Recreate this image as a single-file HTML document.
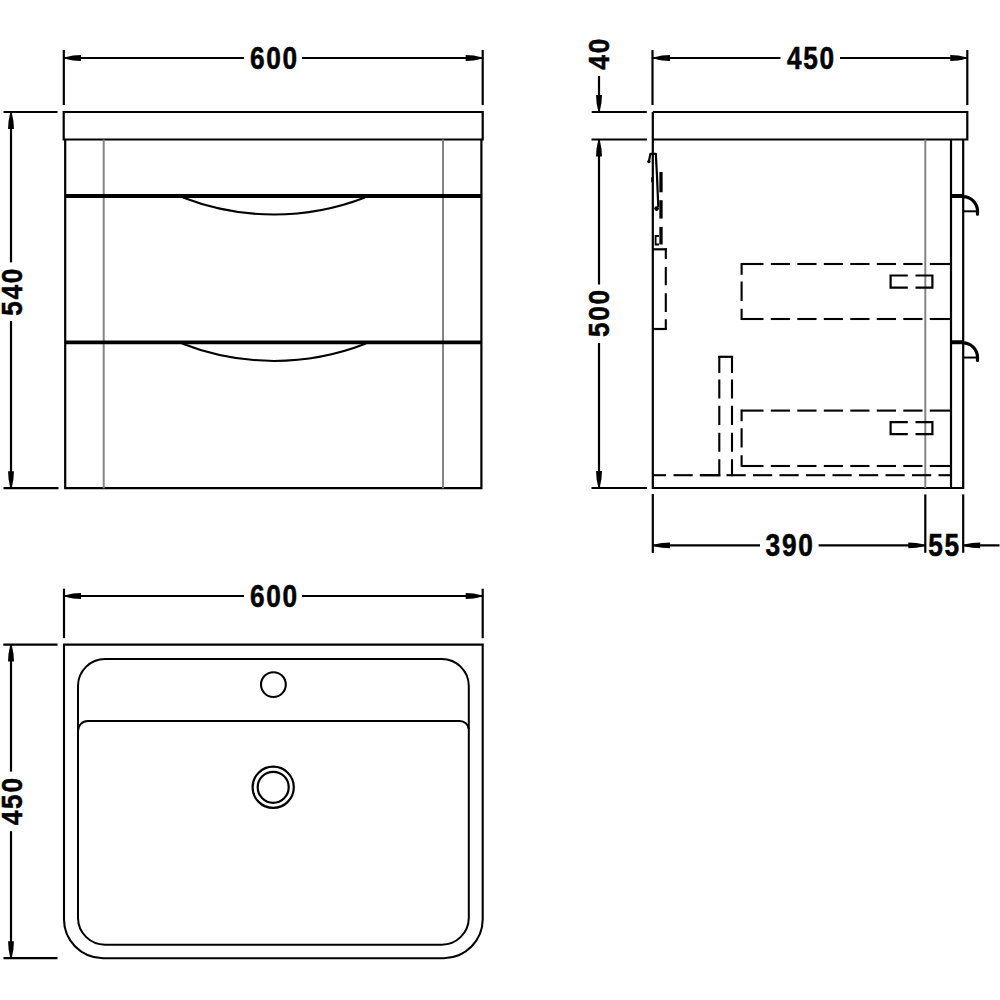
<!DOCTYPE html>
<html><head><meta charset="utf-8"><style>
html,body{margin:0;padding:0;background:#fff;}
svg{display:block;}
.t{font-family:"Liberation Sans",sans-serif;font-weight:bold;font-size:30.7px;letter-spacing:2.0px;stroke:#000;stroke-width:0.55px;fill:#000;}
</style></head><body>
<svg width="1000" height="1000" viewBox="0 0 1000 1000" stroke-linecap="butt">
<line x1="63.8" y1="50" x2="63.8" y2="105" stroke="#000" stroke-width="2.2" />
<line x1="482.7" y1="50" x2="482.7" y2="105" stroke="#000" stroke-width="2.2" />
<line x1="64" y1="58" x2="244" y2="58" stroke="#000" stroke-width="2.2" />
<line x1="302" y1="58" x2="482.7" y2="58" stroke="#000" stroke-width="2.2" />
<polygon points="64.00,57.75 67.50,56.70 73.00,55.55 81.00,55.05 81.00,60.95 73.00,60.45 67.50,59.30 64.00,58.25" fill="#000"/>
<polygon points="482.70,57.75 479.20,56.70 473.70,55.55 465.70,55.05 465.70,60.95 473.70,60.45 479.20,59.30 482.70,58.25" fill="#000"/>
<g transform="translate(273.6,68.5) scale(0.855,1)"><text x="1.0" y="0" text-anchor="middle" class="t">600</text></g>
<line x1="3.5" y1="112" x2="57.5" y2="112" stroke="#000" stroke-width="2.2" />
<line x1="3.5" y1="488.2" x2="58.5" y2="488.2" stroke="#000" stroke-width="2.2" />
<line x1="11" y1="112" x2="11" y2="262.4" stroke="#000" stroke-width="2.2" />
<line x1="11" y1="321" x2="11" y2="488.2" stroke="#000" stroke-width="2.2" />
<polygon points="10.75,112.00 9.70,115.50 8.55,121.00 8.05,129.00 13.95,129.00 13.45,121.00 12.30,115.50 11.25,112.00" fill="#000"/>
<polygon points="10.75,488.20 9.70,484.70 8.55,479.20 8.05,471.20 13.95,471.20 13.45,479.20 12.30,484.70 11.25,488.20" fill="#000"/>
<g transform="translate(11.9,292.2) rotate(-90) scale(0.855,0.94)"><text x="1.0" y="10.3" text-anchor="middle" class="t">540</text></g>
<path d="M63.7,139.5 V112 H482.7 V139.5 Z" stroke="#000" stroke-width="2.2" fill="none" />
<path d="M65.2,139.5 V488.2 H481.4 V139.5" stroke="#000" stroke-width="2.2" fill="none" />
<line x1="103.7" y1="139.5" x2="103.7" y2="488.2" stroke="#858585" stroke-width="2" />
<line x1="443.0" y1="139.5" x2="443.0" y2="488.2" stroke="#858585" stroke-width="2" />
<line x1="65.2" y1="196" x2="481.4" y2="196" stroke="#000" stroke-width="4" />
<line x1="65.2" y1="342.3" x2="481.4" y2="342.3" stroke="#000" stroke-width="3.7" />
<path d="M183,197.5 A252,252 0 0 0 365,197.5" stroke="#000" stroke-width="2" fill="none" />
<path d="M182,343.5 A252,252 0 0 0 366,343.5" stroke="#000" stroke-width="2" fill="none" />
<line x1="652.5" y1="50" x2="652.5" y2="105" stroke="#000" stroke-width="2.2" />
<line x1="967.3" y1="50" x2="967.3" y2="105" stroke="#000" stroke-width="2.2" />
<line x1="653" y1="58" x2="780.5" y2="58" stroke="#000" stroke-width="2.2" />
<line x1="840" y1="58" x2="967.3" y2="58" stroke="#000" stroke-width="2.2" />
<polygon points="653.00,57.75 656.50,56.70 662.00,55.55 670.00,55.05 670.00,60.95 662.00,60.45 656.50,59.30 653.00,58.25" fill="#000"/>
<polygon points="967.30,57.75 963.80,56.70 958.30,55.55 950.30,55.05 950.30,60.95 958.30,60.45 963.80,59.30 967.30,58.25" fill="#000"/>
<g transform="translate(810.5,68.5) scale(0.855,1)"><text x="1.0" y="0" text-anchor="middle" class="t">450</text></g>
<line x1="591.7" y1="112" x2="646.8" y2="112" stroke="#000" stroke-width="2.2" />
<line x1="591.5" y1="139.5" x2="647" y2="139.5" stroke="#000" stroke-width="2.2" />
<line x1="591.5" y1="488" x2="647" y2="488" stroke="#000" stroke-width="2.2" />
<line x1="599" y1="76" x2="599" y2="112" stroke="#000" stroke-width="2.2" />
<polygon points="598.75,112.00 597.70,108.50 596.55,103.00 596.05,95.00 601.95,95.00 601.45,103.00 600.30,108.50 599.25,112.00" fill="#000"/>
<line x1="599" y1="139.5" x2="599" y2="284.5" stroke="#000" stroke-width="2.2" />
<line x1="599" y1="343" x2="599" y2="488" stroke="#000" stroke-width="2.2" />
<polygon points="598.75,139.50 597.70,143.00 596.55,148.50 596.05,156.50 601.95,156.50 601.45,148.50 600.30,143.00 599.25,139.50" fill="#000"/>
<polygon points="598.75,488.00 597.70,484.50 596.55,479.00 596.05,471.00 601.95,471.00 601.45,479.00 600.30,484.50 599.25,488.00" fill="#000"/>
<g transform="translate(599.4,54.2) rotate(-90) scale(0.855,0.94)"><text x="1.0" y="10.3" text-anchor="middle" class="t">40</text></g>
<g transform="translate(599.4,313.5) rotate(-90) scale(0.855,0.94)"><text x="1.0" y="10.3" text-anchor="middle" class="t">500</text></g>
<path d="M652.8,112 H967.3 V139.5 H652.8" stroke="#000" stroke-width="2.2" fill="none" />
<path d="M652.8,112 V488 H963.2 V139.5" stroke="#000" stroke-width="2.2" fill="none" />
<line x1="951" y1="139.5" x2="951" y2="488" stroke="#000" stroke-width="2.2" />
<line x1="925.3" y1="139.5" x2="925.3" y2="488" stroke="#858585" stroke-width="2" />
<line x1="951" y1="196" x2="963" y2="196" stroke="#000" stroke-width="4" />
<path d="M963,196.6 A14.5,14.5 0 0 1 977.5,211 V214.2" stroke="#000" stroke-width="3.2" fill="none" stroke-linecap="round"/>
<line x1="963" y1="211.3" x2="977.5" y2="211.3" stroke="#000" stroke-width="2" />
<line x1="951" y1="342.25" x2="963" y2="342.25" stroke="#000" stroke-width="4" />
<path d="M963,342.85 A14.5,14.5 0 0 1 977.5,357.25 V360.45" stroke="#000" stroke-width="3.2" fill="none" stroke-linecap="round"/>
<line x1="963" y1="357.55" x2="977.5" y2="357.55" stroke="#000" stroke-width="2" />
<line x1="741.6" y1="264" x2="763.5" y2="264" stroke="#000" stroke-width="2.1" />
<line x1="770.8" y1="264" x2="790.0" y2="264" stroke="#000" stroke-width="2.1" />
<line x1="797.3" y1="264" x2="816.5" y2="264" stroke="#000" stroke-width="2.1" />
<line x1="823.8" y1="264" x2="843.0" y2="264" stroke="#000" stroke-width="2.1" />
<line x1="850.3" y1="264" x2="869.5" y2="264" stroke="#000" stroke-width="2.1" />
<line x1="876.8" y1="264" x2="896.0" y2="264" stroke="#000" stroke-width="2.1" />
<line x1="903.3" y1="264" x2="922.5" y2="264" stroke="#000" stroke-width="2.1" />
<line x1="929.8" y1="264" x2="950.5" y2="264" stroke="#000" stroke-width="2.1" />
<line x1="741.6" y1="319" x2="763.5" y2="319" stroke="#000" stroke-width="2.1" />
<line x1="770.8" y1="319" x2="790.0" y2="319" stroke="#000" stroke-width="2.1" />
<line x1="797.3" y1="319" x2="816.5" y2="319" stroke="#000" stroke-width="2.1" />
<line x1="823.8" y1="319" x2="843.0" y2="319" stroke="#000" stroke-width="2.1" />
<line x1="850.3" y1="319" x2="869.5" y2="319" stroke="#000" stroke-width="2.1" />
<line x1="876.8" y1="319" x2="896.0" y2="319" stroke="#000" stroke-width="2.1" />
<line x1="903.3" y1="319" x2="922.5" y2="319" stroke="#000" stroke-width="2.1" />
<line x1="929.8" y1="319" x2="950.5" y2="319" stroke="#000" stroke-width="2.1" />
<path d="M741.60,262.95L741.60,274.70M741.60,281.60L741.60,301.00M741.60,308.70L741.60,320.05" stroke="#000" stroke-width="2.1" fill="none" />
<line x1="741.6" y1="410.6" x2="763.5" y2="410.6" stroke="#000" stroke-width="2.1" />
<line x1="770.8" y1="410.6" x2="790.0" y2="410.6" stroke="#000" stroke-width="2.1" />
<line x1="797.3" y1="410.6" x2="816.5" y2="410.6" stroke="#000" stroke-width="2.1" />
<line x1="823.8" y1="410.6" x2="843.0" y2="410.6" stroke="#000" stroke-width="2.1" />
<line x1="850.3" y1="410.6" x2="869.5" y2="410.6" stroke="#000" stroke-width="2.1" />
<line x1="876.8" y1="410.6" x2="896.0" y2="410.6" stroke="#000" stroke-width="2.1" />
<line x1="903.3" y1="410.6" x2="922.5" y2="410.6" stroke="#000" stroke-width="2.1" />
<line x1="929.8" y1="410.6" x2="950.5" y2="410.6" stroke="#000" stroke-width="2.1" />
<line x1="741.6" y1="466" x2="763.5" y2="466" stroke="#000" stroke-width="2.1" />
<line x1="770.8" y1="466" x2="790.0" y2="466" stroke="#000" stroke-width="2.1" />
<line x1="797.3" y1="466" x2="816.5" y2="466" stroke="#000" stroke-width="2.1" />
<line x1="823.8" y1="466" x2="843.0" y2="466" stroke="#000" stroke-width="2.1" />
<line x1="850.3" y1="466" x2="869.5" y2="466" stroke="#000" stroke-width="2.1" />
<line x1="876.8" y1="466" x2="896.0" y2="466" stroke="#000" stroke-width="2.1" />
<line x1="903.3" y1="466" x2="922.5" y2="466" stroke="#000" stroke-width="2.1" />
<line x1="929.8" y1="466" x2="950.5" y2="466" stroke="#000" stroke-width="2.1" />
<path d="M741.60,409.55L741.60,421.30M741.60,428.20L741.60,447.60M741.60,455.30L741.60,466.85" stroke="#000" stroke-width="2.1" fill="none" />
<path d="M907.8,275.5 H890.6 V287.7 H907.8" stroke="#000" stroke-width="2.2" fill="none" />
<path d="M915.5,275.5 H932.4 V287.7 H915.5" stroke="#000" stroke-width="2.2" fill="none" />
<path d="M907.8,422.2 H890.6 V434.1 H907.8" stroke="#000" stroke-width="2.2" fill="none" />
<path d="M915.5,422.2 H932.4 V434.1 H915.5" stroke="#000" stroke-width="2.2" fill="none" />
<line x1="653" y1="475.2" x2="666" y2="475.2" stroke="#000" stroke-width="2.1" />
<line x1="673.5" y1="475.2" x2="692.7" y2="475.2" stroke="#000" stroke-width="2.1" />
<line x1="700.0" y1="475.2" x2="719.2" y2="475.2" stroke="#000" stroke-width="2.1" />
<line x1="726.5" y1="475.2" x2="745.7" y2="475.2" stroke="#000" stroke-width="2.1" />
<line x1="753.0" y1="475.2" x2="772.2" y2="475.2" stroke="#000" stroke-width="2.1" />
<line x1="779.5" y1="475.2" x2="798.7" y2="475.2" stroke="#000" stroke-width="2.1" />
<line x1="806.0" y1="475.2" x2="825.2" y2="475.2" stroke="#000" stroke-width="2.1" />
<line x1="832.5" y1="475.2" x2="851.7" y2="475.2" stroke="#000" stroke-width="2.1" />
<line x1="859.0" y1="475.2" x2="878.2" y2="475.2" stroke="#000" stroke-width="2.1" />
<line x1="885.5" y1="475.2" x2="904.7" y2="475.2" stroke="#000" stroke-width="2.1" />
<line x1="912.0" y1="475.2" x2="931.2" y2="475.2" stroke="#000" stroke-width="2.1" />
<line x1="938.5" y1="475.2" x2="950.5" y2="475.2" stroke="#000" stroke-width="2.1" />
<line x1="699.8" y1="475.2" x2="720.3" y2="475.2" stroke="#000" stroke-width="2.1" />
<path d="M719.30,476.20L719.30,459.20M719.30,451.80L719.30,432.70M719.30,424.90L719.30,405.80M719.30,398.60L719.30,379.50M719.30,372.90L719.30,355.90" stroke="#000" stroke-width="2.1" fill="none" />
<path d="M732.00,476.20L732.00,459.20M732.00,451.80L732.00,432.70M732.00,424.90L732.00,405.80M732.00,398.60L732.00,379.50M732.00,372.90L732.00,355.90" stroke="#000" stroke-width="2.1" fill="none" />
<line x1="718.2" y1="356.8" x2="733.1" y2="356.8" stroke="#000" stroke-width="2.2" />
<path d="M665.80,248.20L665.80,258.90M665.80,266.90L665.80,285.30M665.80,293.30L665.80,311.90M665.80,319.30L665.80,330.10" stroke="#000" stroke-width="2.1" fill="none" />
<line x1="653" y1="249.3" x2="666.9" y2="249.3" stroke="#000" stroke-width="2.2" />
<line x1="653" y1="329" x2="666.9" y2="329" stroke="#000" stroke-width="2.2" />
<path d="M648.8,162 L650.4,153.9 H655.8 L656.9,174 L658.3,207" stroke="#000" stroke-width="2.2" fill="none" stroke-linejoin="round"/>
<circle cx="648.9" cy="161.6" r="1.7" fill="#000"/>
<rect x="651.2" y="177.3" width="2" height="5" fill="#000"/>
<circle cx="656.6" cy="208.6" r="2.3" fill="#000"/>
<line x1="661" y1="172" x2="661" y2="192.3" stroke="#000" stroke-width="3.3" />
<line x1="661" y1="200.2" x2="661" y2="218.6" stroke="#000" stroke-width="3.3" />
<line x1="661" y1="226.9" x2="661" y2="244.5" stroke="#000" stroke-width="3.3" />
<path d="M659,236 H655.6 V244.5 H659" stroke="#000" stroke-width="1.8" fill="none" />
<line x1="652.8" y1="494" x2="652.8" y2="553" stroke="#000" stroke-width="2.2" />
<line x1="925.3" y1="494.4" x2="925.3" y2="552.8" stroke="#000" stroke-width="2.2" />
<line x1="963.2" y1="494.4" x2="963.2" y2="552.8" stroke="#000" stroke-width="2.2" />
<line x1="653" y1="545.4" x2="760" y2="545.4" stroke="#000" stroke-width="2.2" />
<line x1="818.6" y1="545.4" x2="925.3" y2="545.4" stroke="#000" stroke-width="2.2" />
<polygon points="653.00,545.15 656.50,544.10 662.00,542.95 670.00,542.45 670.00,548.35 662.00,547.85 656.50,546.70 653.00,545.65" fill="#000"/>
<polygon points="925.30,545.15 921.80,544.10 916.30,542.95 908.30,542.45 908.30,548.35 916.30,547.85 921.80,546.70 925.30,545.65" fill="#000"/>
<g transform="translate(789.2,556) scale(0.855,1)"><text x="1.0" y="0" text-anchor="middle" class="t">390</text></g>
<line x1="963.2" y1="545.4" x2="999.5" y2="545.4" stroke="#000" stroke-width="2.2" />
<polygon points="963.20,545.15 966.70,544.10 972.20,542.95 980.20,542.45 980.20,548.35 972.20,547.85 966.70,546.70 963.20,545.65" fill="#000"/>
<g transform="translate(943.7,556) scale(0.855,1)"><text x="1.0" y="0" text-anchor="middle" class="t">55</text></g>
<line x1="64" y1="588.7" x2="64" y2="638.2" stroke="#000" stroke-width="2.2" />
<line x1="482.7" y1="588.7" x2="482.7" y2="638.2" stroke="#000" stroke-width="2.2" />
<line x1="64" y1="596" x2="244" y2="596" stroke="#000" stroke-width="2.2" />
<line x1="302" y1="596" x2="482.7" y2="596" stroke="#000" stroke-width="2.2" />
<polygon points="64.00,595.75 67.50,594.70 73.00,593.55 81.00,593.05 81.00,598.95 73.00,598.45 67.50,597.30 64.00,596.25" fill="#000"/>
<polygon points="482.70,595.75 479.20,594.70 473.70,593.55 465.70,593.05 465.70,598.95 473.70,598.45 479.20,597.30 482.70,596.25" fill="#000"/>
<g transform="translate(273.6,606.5) scale(0.855,1)"><text x="1.0" y="0" text-anchor="middle" class="t">600</text></g>
<line x1="3.3" y1="644.6" x2="57.5" y2="644.6" stroke="#000" stroke-width="2.2" />
<line x1="3.5" y1="958.2" x2="57.5" y2="958.2" stroke="#000" stroke-width="2.2" />
<line x1="11" y1="644.6" x2="11" y2="771.6" stroke="#000" stroke-width="2.2" />
<line x1="11" y1="831.2" x2="11" y2="958.2" stroke="#000" stroke-width="2.2" />
<polygon points="10.75,644.60 9.70,648.10 8.55,653.60 8.05,661.60 13.95,661.60 13.45,653.60 12.30,648.10 11.25,644.60" fill="#000"/>
<polygon points="10.75,958.20 9.70,954.70 8.55,949.20 8.05,941.20 13.95,941.20 13.45,949.20 12.30,954.70 11.25,958.20" fill="#000"/>
<g transform="translate(11.9,801.6) rotate(-90) scale(0.855,0.94)"><text x="1.0" y="10.3" text-anchor="middle" class="t">450</text></g>
<path d="M64,644.6 H482.7 V918.5 A39,39 0 0 1 443.7,958.2 H103 A39,39 0 0 1 64,918.5 Z" stroke="#000" stroke-width="2.1" fill="none" />
<path d="M78,721 V918 A27,27 0 0 0 105,944.7 H441.8 A27,27 0 0 0 468.8,918 V729 A9,9 0 0 0 459.8,721 H87.8 A9.8,9.8 0 0 0 78,730.8" stroke="#000" stroke-width="2.0" fill="none" />
<path d="M78,721 V685.8 A27,27 0 0 1 105,659 H441.8 A27,27 0 0 1 468.8,685.8 V729" stroke="#000" stroke-width="2.0" fill="none" />
<circle cx="273.4" cy="684.6" r="12.4" stroke="#000" stroke-width="2.1" fill="none"/>
<circle cx="273.2" cy="787.3" r="20.6" stroke="#000" stroke-width="2.2" fill="none"/>
<circle cx="273.2" cy="787.3" r="15.5" stroke="#000" stroke-width="2.2" fill="none"/>
</svg></body></html>
